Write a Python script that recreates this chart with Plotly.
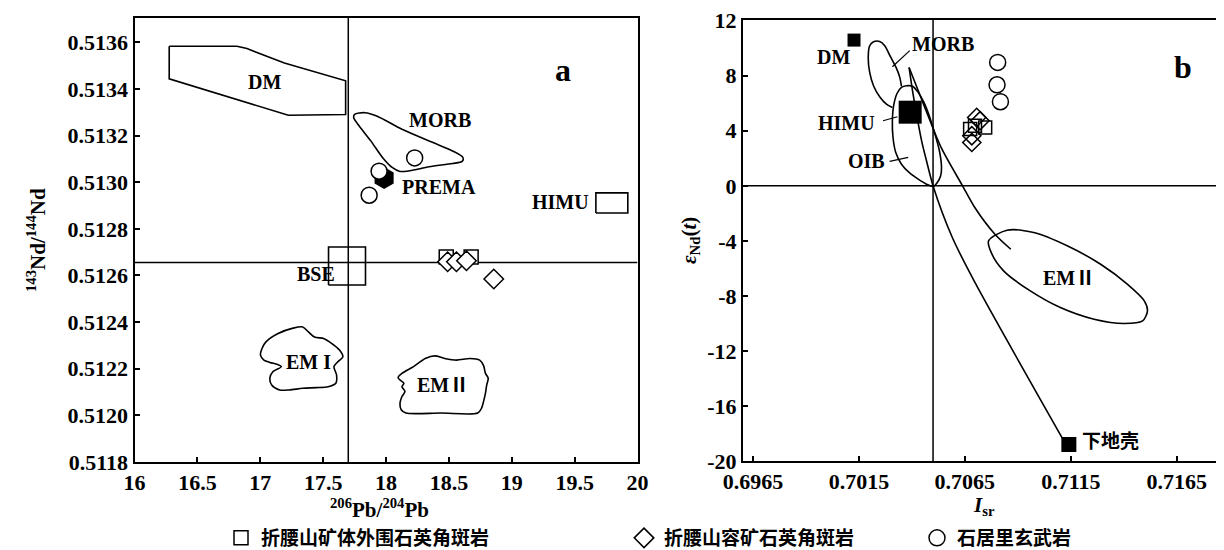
import plotly.graph_objects as go

# ---------------- Panel a : 206Pb/204Pb vs 143Nd/144Nd ----------------
a_x_range = [16, 20]
a_y_range = [0.5118, 0.513704]
a_x_ticks = [16, 16.5, 17, 17.5, 18, 18.5, 19, 19.5, 20]
a_x_ticktext = ["16", "16.5", "17", "17.5", "18", "18.5", "19", "19.5", "20"]
a_y_ticks = [0.5118, 0.5120, 0.5122, 0.5124, 0.5126, 0.5128, 0.5130, 0.5132, 0.5134, 0.5136]
a_y_ticktext = ["0.5118", "0.5120", "0.5122", "0.5124", "0.5126", "0.5128", "0.5130", "0.5132", "0.5134", "0.5136"]

a_bse_pb = 17.7
a_bse_nd = 0.512655

dm_a_x = [16.276, 16.815, 16.894, 17.192, 17.679, 17.679, 17.223, 16.276, 16.276]
dm_a_y = [0.513583, 0.513583, 0.513573, 0.513511, 0.513435, 0.513290, 0.513287, 0.513443, 0.513583]

morb_a_x = [17.750, 17.833, 17.926, 18.127, 18.374, 18.529, 18.612, 18.606, 18.529, 18.343,
            18.189, 18.111, 18.049, 17.972, 17.879, 17.787, 17.743, 17.750]
morb_a_y = [0.513291, 0.513298, 0.513284, 0.513227, 0.513170, 0.513134, 0.513106, 0.513089,
            0.513080, 0.513066, 0.513049, 0.513046, 0.513063, 0.513106, 0.513177, 0.513241,
            0.513277, 0.513291]

em1_x = [17.014, 17.045, 17.138, 17.261, 17.338, 17.385, 17.431, 17.508, 17.570, 17.632, 17.657,
         17.617, 17.586, 17.607, 17.601, 17.539, 17.447, 17.338, 17.230, 17.153, 17.091, 17.076,
         17.100, 17.168, 17.138, 17.076, 17.029, 17.002, 17.014]
em1_y = [0.512287, 0.512315, 0.512350, 0.512374, 0.512379, 0.512357, 0.512336, 0.512329, 0.512308,
         0.512279, 0.512251, 0.512230, 0.512209, 0.512173, 0.512138, 0.512123, 0.512119, 0.512116,
         0.512109, 0.512109, 0.512130, 0.512159, 0.512187, 0.512209, 0.512218, 0.512227, 0.512237,
         0.512258, 0.512287]

em2_a_x = [18.096, 18.127, 18.219, 18.312, 18.389, 18.467, 18.560, 18.668, 18.745, 18.776, 18.791,
           18.813, 18.801, 18.791, 18.776, 18.760, 18.730, 18.436, 18.158, 18.121, 18.111, 18.127,
           18.151, 18.127, 18.142, 18.111, 18.096]
em2_a_y = [0.512162, 0.512180, 0.512209, 0.512244, 0.512255, 0.512244, 0.512237, 0.512244, 0.512237,
           0.512213, 0.512180, 0.512159, 0.512131, 0.512095, 0.512060, 0.512031, 0.512010, 0.512010,
           0.512010, 0.512024, 0.512052, 0.512081, 0.512102, 0.512123, 0.512138, 0.512152, 0.512162]

bse_box_x = [17.543, 17.837]
bse_box_y = [0.512559, 0.512722]
himu_box_x = [19.669, 19.923]
himu_box_y = [0.512868, 0.512954]

prema_x = [17.985]
prema_y = [0.513018]

a_square_x = [18.479, 18.677]
a_square_y = [0.512679, 0.512679]
a_diamond_x = [18.49, 18.56, 18.64, 18.857]
a_diamond_y = [0.512659, 0.512659, 0.512663, 0.512585]
a_circle_x = [18.228, 17.945, 17.866]
a_circle_y = [0.513104, 0.513047, 0.512944]

a_label_text = ["DM", "MORB", "PREMA", "HIMU", "BSE", "EM I", "EMⅡ"]
a_label_x = [17.03, 18.43, 18.42, 19.386, 17.44, 17.385, 18.45]
a_label_y = [0.51343, 0.513268, 0.512979, 0.512913, 0.512607, 0.51223, 0.51213]

# ---------------- Panel b : Isr vs eNd(t) ----------------
b_x_range = [0.69603, 0.71911]
b_y_range = [-20, 12.05]
b_x_ticks = [0.6965, 0.7015, 0.7065, 0.7115, 0.7165]
b_x_ticktext = ["0.6965", "0.7015", "0.7065", "0.7115", "0.7165"]
b_y_ticks = [12, 8, 4, 0, -4, -8, -12, -16, -20]
b_y_ticktext = ["12", "8", "4", "0", "-4", "-8", "-12", "-16", "-20"]

b_bse_sr = 0.705
b_bse_nd = 0.0

morb_b_x = [0.70308, 0.70280, 0.70248, 0.70219, 0.70201, 0.70194, 0.70201, 0.70219, 0.70248,
            0.70272, 0.70299, 0.70327, 0.70343, 0.70351]
morb_b_y = [5.69, 5.93, 6.47, 7.27, 8.24, 9.33, 10.18, 10.47, 10.49, 10.18, 9.38, 8.55, 7.88, 7.22]

oib_x = [0.70351, 0.70375, 0.70403, 0.70430, 0.70457, 0.70482, 0.70509, 0.70530, 0.70540, 0.70536,
         0.70520, 0.70501, 0.70469, 0.70430, 0.70387, 0.70351, 0.70324, 0.70311, 0.70308, 0.70314,
         0.70330, 0.70351]
oib_y = [7.15, 7.27, 7.24, 6.79, 6.06, 5.09, 3.75, 2.55, 1.33, 0.73, 0.24, -0.05, 0.12, 0.48, 0.97,
         1.57, 2.42, 3.51, 4.73, 5.82, 6.71, 7.15]

em2_b_x = [0.70762, 0.70849, 0.70975, 0.71133, 0.71291, 0.71418, 0.71497, 0.71512, 0.71489, 0.71402,
           0.71260, 0.71101, 0.70959, 0.70833, 0.70778, 0.70762]
em2_b_y = [-4.0, -3.23, -3.40, -4.36, -5.70, -7.16, -8.36, -9.09, -9.82, -10.01, -9.70, -8.85, -7.64,
           -6.18, -4.97, -4.0]

mix_lc_x = [0.70387, 0.70403, 0.70422, 0.70446, 0.70469, 0.70501, 0.70591, 0.70697, 0.71118]
mix_lc_y = [8.60, 6.91, 5.21, 3.27, 1.82, -0.05, -3.76, -7.0, -18.55]
mix_em2_x = [0.70387, 0.70461, 0.70538, 0.70639, 0.70697, 0.70792, 0.70867]
mix_em2_y = [8.60, 5.70, 2.79, 0.0, -1.58, -3.52, -4.61]

b_morb_lead_x = [0.70390, 0.70308]
b_morb_lead_y = [9.82, 8.65]
b_himu_lead_x = [0.70264, 0.70332]
b_himu_lead_y = [4.73, 5.02]
b_oib_lead_x = [0.70295, 0.70383]
b_oib_lead_y = [1.77, 2.06]

b_dm_x = [0.70127]
b_dm_y = [10.59]
b_himu_x = [0.70392]
b_himu_y = [5.35]
b_lc_x = [0.71141]
b_lc_y = [-18.8]

b_circle_x = [0.70805, 0.70802, 0.70818]
b_circle_y = [8.97, 7.34, 6.11]
b_square_x = [0.70675, 0.70746, 0.70698]
b_square_y = [4.12, 4.24, 4.36]
b_diamond_x = [0.70706, 0.70683, 0.70722, 0.70683]
b_diamond_y = [4.97, 3.15, 4.73, 3.64]

b_label_text = ["DM", "MORB", "HIMU", "OIB", "EMⅡ", "下地壳"]
b_label_x = [0.70030, 0.70545, 0.70093, 0.70188, 0.71141, 0.71339]
b_label_y = [9.38, 10.30, 4.60, 1.82, -6.67, -18.45]

legend_names = ["折腰山矿体外围石英角斑岩", "折腰山容矿石英角斑岩", "石居里玄武岩"]

# ---------------- Styling ----------------
SERIF = "Liberation Serif"
CJK = "Noto Sans CJK SC"
LW = 1.6
W, H = 1224, 550

fig = go.Figure()


def line_trace(x, y, xa, ya, shape="linear", width=LW):
    fig.add_trace(go.Scatter(x=x, y=y, mode="lines", xaxis=xa, yaxis=ya,
                             line=dict(color="black", width=width, shape=shape, smoothing=0.8),
                             showlegend=False, hoverinfo="skip"))


def rect_trace(xr, yr, xa, ya):
    line_trace([xr[0], xr[1], xr[1], xr[0], xr[0]], [yr[0], yr[0], yr[1], yr[1], yr[0]], xa, ya)


# Panel a reference lines
line_trace([a_bse_pb, a_bse_pb], a_y_range, "x", "y", width=1.5)
line_trace(a_x_range, [a_bse_nd, a_bse_nd], "x", "y", width=1.5)
# Panel a fields
line_trace(dm_a_x, dm_a_y, "x", "y")
line_trace(morb_a_x, morb_a_y, "x", "y", shape="spline")
line_trace(em1_x, em1_y, "x", "y", shape="spline")
line_trace(em2_a_x, em2_a_y, "x", "y", shape="spline")
rect_trace(bse_box_x, bse_box_y, "x", "y")
rect_trace(himu_box_x, himu_box_y, "x", "y")

fig.add_trace(go.Scatter(x=prema_x, y=prema_y, mode="markers", xaxis="x", yaxis="y",
                         marker=dict(symbol="hexagon", size=22, color="black"),
                         showlegend=False, hoverinfo="skip"))

open_marker = dict(color="white", line=dict(color="black", width=1.5))
fig.add_trace(go.Scatter(x=a_square_x, y=a_square_y, mode="markers", xaxis="x", yaxis="y",
                         name=legend_names[0], legend="legend",
                         marker=dict(symbol="square", size=14, **open_marker)))
fig.add_trace(go.Scatter(x=a_diamond_x, y=a_diamond_y, mode="markers", xaxis="x", yaxis="y",
                         name=legend_names[1], legend="legend2",
                         marker=dict(symbol="diamond", size=15, **open_marker)))
fig.add_trace(go.Scatter(x=a_circle_x, y=a_circle_y, mode="markers", xaxis="x", yaxis="y",
                         name=legend_names[2], legend="legend3",
                         marker=dict(symbol="circle", size=16, **open_marker)))

# Panel b reference lines
line_trace([b_bse_sr, b_bse_sr], b_y_range, "x2", "y2", width=1.5)
line_trace(b_x_range, [b_bse_nd, b_bse_nd], "x2", "y2", width=1.5)
# Panel b fields and mixing curves
line_trace(morb_b_x, morb_b_y, "x2", "y2", shape="spline")
line_trace(oib_x, oib_y, "x2", "y2", shape="spline")
line_trace(em2_b_x, em2_b_y, "x2", "y2", shape="spline")
line_trace(mix_lc_x, mix_lc_y, "x2", "y2", shape="spline")
line_trace(mix_em2_x, mix_em2_y, "x2", "y2", shape="spline")
line_trace(b_morb_lead_x, b_morb_lead_y, "x2", "y2", width=1.2)
line_trace(b_himu_lead_x, b_himu_lead_y, "x2", "y2", width=1.2)
line_trace(b_oib_lead_x, b_oib_lead_y, "x2", "y2", width=1.2)

for xs, ys, sz in [(b_dm_x, b_dm_y, 13), (b_himu_x, b_himu_y, 23), (b_lc_x, b_lc_y, 15)]:
    fig.add_trace(go.Scatter(x=xs, y=ys, mode="markers", xaxis="x2", yaxis="y2",
                             marker=dict(symbol="square", size=sz, color="black"),
                             showlegend=False, hoverinfo="skip"))

for xs, ys, sym, sz in [(b_circle_x, b_circle_y, "circle", 16),
                        (b_square_x, b_square_y, "square", 13),
                        (b_diamond_x, b_diamond_y, "diamond", 14)]:
    fig.add_trace(go.Scatter(x=xs, y=ys, mode="markers", xaxis="x2", yaxis="y2",
                             marker=dict(symbol=sym, size=sz, color="rgba(255,255,255,0)",
                                         line=dict(color="black", width=1.5)),
                             showlegend=False, hoverinfo="skip"))

# Labels
annots = []
lab_font = dict(family=SERIF + ", " + CJK, size=20, color="black", weight="bold")
for t, x, y in zip(a_label_text, a_label_x, a_label_y):
    annots.append(dict(text=t, x=x, y=y, xref="x", yref="y", showarrow=False, font=lab_font,
                       xanchor="center", yanchor="middle"))
for t, x, y in zip(b_label_text, b_label_x, b_label_y):
    f = dict(lab_font)
    if t == "下地壳":
        f = dict(family=CJK, size=19, color="black", weight="bold")
    annots.append(dict(text=t, x=x, y=y, xref="x2", yref="y2", showarrow=False, font=f,
                       xanchor="center", yanchor="middle"))

big_font = dict(family=SERIF, size=32, color="black", weight="bold")
annots.append(dict(text="a", x=19.41, y=0.513483, xref="x", yref="y", showarrow=False,
                   font=big_font, xanchor="center", yanchor="middle"))
annots.append(dict(text="b", x=0.71678, y=8.6, xref="x2", yref="y2", showarrow=False,
                   font=big_font, xanchor="center", yanchor="middle"))

title_font = dict(family=SERIF, size=21, color="black", weight="bold")
for txt, px, py, ang in [("<sup>206</sup>Pb/<sup>204</sup>Pb", 372, 500, 0),
                         ("<sup>143</sup>Nd/<sup>144</sup>Nd", 28, 232, -90),
                         ("<i>ε</i><sub>Nd</sub>(<i>t</i>)", 682, 233, -90),
                         ("<i>I</i><sub>sr</sub>", 976, 498, 0)]:
    annots.append(dict(text=txt, x=px / W, y=1 - py / H, xref="paper", yref="paper",
                       showarrow=False, textangle=ang, font=title_font,
                       xanchor="center", yanchor="middle"))

tick_font = dict(family=SERIF, size=22, color="black", weight="bold")
axis_common = dict(showline=True, linecolor="black", linewidth=2, mirror=True, ticks="inside",
                   ticklen=5, tickwidth=1.5, tickcolor="black", showgrid=False, zeroline=False,
                   tickfont=tick_font, fixedrange=True, automargin=False)

legend_common = dict(orientation="h", yanchor="middle", xanchor="left", bgcolor="rgba(0,0,0,0)",
                     font=dict(family=CJK, size=19, color="black", weight="bold"))

fig.update_layout(
    width=W, height=H, margin=dict(l=0, r=0, t=0, b=0, autoexpand=False),
    paper_bgcolor="white", plot_bgcolor="white",
    xaxis=dict(domain=[126.5 / W, 629.5 / W], range=a_x_range, tickvals=a_x_ticks,
               ticktext=a_x_ticktext, anchor="y", **axis_common),
    yaxis=dict(domain=[1 - 454 / H, 1 - 10 / H], range=a_y_range, tickvals=a_y_ticks,
               ticktext=a_y_ticktext, anchor="x", **axis_common),
    xaxis2=dict(domain=[735 / W, 1.0], range=b_x_range, tickvals=b_x_ticks,
                ticktext=b_x_ticktext, anchor="y2", **axis_common),
    yaxis2=dict(domain=[1 - 453 / H, 1 - 12 / H], range=b_y_range, tickvals=b_y_ticks,
                ticktext=b_y_ticktext, anchor="x2", **axis_common),
    annotations=annots,
    legend=dict(x=213 / W, y=1 - 530 / H, **legend_common),
    legend2=dict(x=616 / W, y=1 - 530 / H, **legend_common),
    legend3=dict(x=909 / W, y=1 - 530 / H, **legend_common),
)

fig.write_html("out.html")
